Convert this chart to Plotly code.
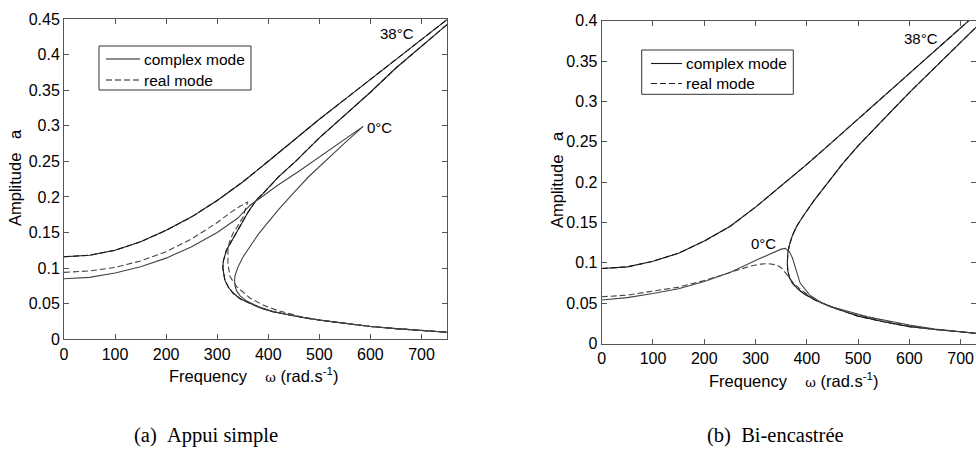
import plotly.graph_objects as go

# ---------------- data: (a) Appui simple ----------------
L38_UP_W = [0, 50, 100, 150, 200, 250, 300, 350, 400, 450, 500, 550, 600, 650, 700, 750]
L38_UP_A = [0.116, 0.118, 0.125, 0.137, 0.153, 0.172, 0.195, 0.221, 0.250, 0.280, 0.309, 0.337, 0.365, 0.392, 0.420, 0.449]
L38_BK_W = [750, 700, 650, 600, 550, 500, 455, 420, 390, 377, 360, 344, 330, 318, 312, 311, 315, 322, 331, 345, 364, 385, 409, 440, 475, 527, 600, 650, 700, 750]
L38_BK_A = [0.442, 0.412, 0.381, 0.347, 0.315, 0.283, 0.251, 0.228, 0.205, 0.196, 0.178, 0.158, 0.140, 0.125, 0.110, 0.100, 0.083, 0.073, 0.065, 0.057, 0.0506, 0.044, 0.0388, 0.034, 0.0295, 0.0245, 0.018, 0.015, 0.0125, 0.0100]

L0_CPX_W = [0, 50, 100, 150, 200, 250, 300, 340, 364, 387, 420, 460, 500, 550, 586,
            550, 514, 480, 450, 420, 397, 380, 364, 350, 341, 335, 334, 335, 338, 345, 357, 380, 410, 450, 500, 550, 600, 650, 700, 750]
L0_CPX_A = [0.085, 0.087, 0.093, 0.102, 0.114, 0.130, 0.150, 0.170, 0.188, 0.200, 0.217, 0.236, 0.256, 0.280, 0.299,
            0.276, 0.252, 0.229, 0.206, 0.182, 0.162, 0.147, 0.130, 0.115, 0.102, 0.090, 0.083, 0.075, 0.068, 0.061, 0.054, 0.046, 0.039, 0.033, 0.027, 0.0222, 0.018, 0.015, 0.0125, 0.010]

L0_REAL_W = [0, 50, 100, 150, 200, 250, 298, 330, 354, 360, 356, 351, 341, 331, 324, 321, 321, 325, 338, 364, 390, 416, 462, 500, 550, 600, 650, 700, 750]
L0_REAL_A = [0.094, 0.096, 0.101, 0.110, 0.123, 0.141, 0.163, 0.180, 0.191, 0.193, 0.185, 0.172, 0.160, 0.149, 0.137, 0.125, 0.107, 0.088, 0.074, 0.058, 0.048, 0.041, 0.032, 0.027, 0.0225, 0.018, 0.015, 0.0125, 0.010]

# ---------------- data: (b) Bi-encastree ----------------
R38_UP_W = [0, 50, 100, 150, 200, 250, 300, 350, 400, 450, 500, 550, 600, 650, 700, 730]
R38_UP_A = [0.093, 0.095, 0.102, 0.112, 0.127, 0.145, 0.169, 0.195, 0.222, 0.250, 0.278, 0.306, 0.335, 0.363, 0.391, 0.408]
R38_BK_W = [740, 700, 650, 600, 550, 500, 470, 439, 415, 393, 380, 372, 366, 363, 362, 363, 366, 372, 382, 393, 416, 450, 500, 550, 600, 650, 700, 730]
R38_BK_A = [0.398, 0.373, 0.342, 0.311, 0.278, 0.245, 0.223, 0.198, 0.178, 0.158, 0.145, 0.134, 0.122, 0.112, 0.100, 0.090, 0.082, 0.075, 0.068, 0.0624, 0.054, 0.045, 0.034, 0.027, 0.021, 0.0175, 0.0145, 0.0128]

R0_CPX_W = [0, 50, 100, 150, 200, 250, 300, 330, 350, 358, 366, 372, 377, 387, 406, 430, 452, 490, 520, 560, 600, 650, 700, 730]
R0_CPX_A = [0.054, 0.057, 0.062, 0.068, 0.077, 0.088, 0.103, 0.112, 0.117, 0.118, 0.114, 0.106, 0.095, 0.075, 0.060, 0.050, 0.045, 0.038, 0.033, 0.028, 0.023, 0.018, 0.0145, 0.0128]

R0_REAL_W = [0, 50, 100, 150, 200, 250, 290, 310, 325, 341, 350, 358, 366, 374, 390, 410, 430, 452, 490, 520, 560, 600, 650, 700, 730]
R0_REAL_A = [0.058, 0.060, 0.065, 0.070, 0.078, 0.088, 0.096, 0.0985, 0.099, 0.0975, 0.094, 0.088, 0.082, 0.075, 0.066, 0.057, 0.050, 0.044, 0.037, 0.033, 0.028, 0.022, 0.0175, 0.0145, 0.0128]

# ---------------- ticks / labels ----------------
X_TICKS = [0, 100, 200, 300, 400, 500, 600, 700]
Y_TICKS_L = [0, 0.05, 0.1, 0.15, 0.2, 0.25, 0.3, 0.35, 0.4, 0.45]
Y_LABELS_L = ["0", "0.05", "0.1", "0.15", "0.2", "0.25", "0.3", "0.35", "0.4", "0.45"]
Y_TICKS_R = [0, 0.05, 0.1, 0.15, 0.2, 0.25, 0.3, 0.35, 0.4]
Y_LABELS_R = ["0", "0.05", "0.1", "0.15", "0.2", "0.25", "0.3", "0.35", "0.4"]
LEGEND_NAMES = ["complex mode", "real mode"]

FONT = "Liberation Sans, Arial, sans-serif"
SERIF = "Liberation Serif, Times New Roman, serif"
C38 = "#1a1a1a"
C0 = "#444444"
DASH = "6px,3px"

fig = go.Figure()

def add(x, y, xa, ya, color, dash):
    fig.add_trace(go.Scatter(
        x=x, y=y, xaxis=xa, yaxis=ya, mode="lines",
        line=dict(color=color, width=1.1, dash=dash),
        showlegend=False, hoverinfo="skip"))

# left panel
add(L38_UP_W, L38_UP_A, "x", "y", C38, "solid")
add(L38_UP_W, L38_UP_A, "x", "y", C38, DASH)
add(L38_BK_W, L38_BK_A, "x", "y", C38, "solid")
add(L38_BK_W, L38_BK_A, "x", "y", C38, DASH)
add(L0_CPX_W, L0_CPX_A, "x", "y", C0, "solid")
add(L0_REAL_W, L0_REAL_A, "x", "y", C0, DASH)

# right panel
add(R38_UP_W, R38_UP_A, "x2", "y2", C38, "solid")
add(R38_UP_W, R38_UP_A, "x2", "y2", C38, DASH)
add(R38_BK_W, R38_BK_A, "x2", "y2", C38, "solid")
add(R38_BK_W, R38_BK_A, "x2", "y2", C38, DASH)
add(R0_CPX_W, R0_CPX_A, "x2", "y2", C0, "solid")
add(R0_REAL_W, R0_REAL_A, "x2", "y2", C0, DASH)

W, H = 976, 453

def px(xp):
    return xp / W

def py(yp):
    return 1 - yp / H

axis_common = dict(
    showgrid=False, zeroline=False, showline=True, linecolor="#555", linewidth=1,
    mirror="ticks", ticks="inside", ticklen=5, tickcolor="#555", automargin=False,
    tickfont=dict(family=FONT, size=16, color="#000"),
)

fig.update_layout(
    template="none",
    width=W, height=H, margin=dict(l=0, r=0, t=0, b=0, pad=0, autoexpand=False),
    paper_bgcolor="white", plot_bgcolor="white", showlegend=False,
    xaxis=dict(domain=[px(64), px(447)], range=[0, 750], tickvals=X_TICKS, anchor="y", **axis_common),
    yaxis=dict(domain=[py(339.3), py(18.9)], range=[0, 0.45], tickvals=Y_TICKS_L, ticktext=Y_LABELS_L, anchor="x", **axis_common),
    xaxis2=dict(domain=[px(601.7), 1.0], range=[0, 730], tickvals=X_TICKS, anchor="y2", **axis_common),
    yaxis2=dict(domain=[py(343.6), py(20.7)], range=[0, 0.4], tickvals=Y_TICKS_R, ticktext=Y_LABELS_R, anchor="x2", **axis_common),
)

ann = []
shapes = []

def text(x, y, t, size=15, family=FONT, angle=0, xref="paper", yref="paper", xanchor="center"):
    ann.append(dict(x=x, y=y, xref=xref, yref=yref, text=t, showarrow=False,
                    font=dict(family=family, size=size, color="#000"), textangle=angle,
                    xanchor=xanchor, yanchor="middle"))

# legends drawn as boxes (one per panel)
def legend_box(x0, y0, x1, y1, lx0, lx1, tx, rows):
    shapes.append(dict(type="rect", xref="paper", yref="paper",
                       x0=px(x0), x1=px(x1), y0=py(y1), y1=py(y0),
                       line=dict(color="#333", width=1), fillcolor="white", layer="above"))
    for (ry, name, dash) in rows:
        shapes.append(dict(type="line", xref="paper", yref="paper",
                           x0=px(lx0), x1=px(lx1), y0=py(ry), y1=py(ry),
                           line=dict(color=C38, width=1.1, dash=dash), layer="above"))
        text(px(tx), py(ry), name, 15.5, xanchor="left")

legend_box(99, 46, 251, 90, 106, 140, 142, [(59, LEGEND_NAMES[0], "solid"), (80, LEGEND_NAMES[1], DASH)])
legend_box(641.7, 50, 793.3, 94.3, 651, 682, 683.5, [(63.5, LEGEND_NAMES[0], "solid"), (83.5, LEGEND_NAMES[1], DASH)])

xtitle = ("Frequency&nbsp;&nbsp;&nbsp;&nbsp;<span style='font-family:DejaVu Serif;font-size:13px'>ω</span>"
          " (rad.s<sup>-1</sup>)")
text(px(254), py(375), xtitle, 16.5)
text(px(793), py(380), xtitle, 16.5)
ytitle = "Amplitude&nbsp;&nbsp;&nbsp;a"
text(px(15), py(178), ytitle, 16.5, angle=-90)
text(px(557), py(180), ytitle, 16.5, angle=-90)

# temperature labels (data coords)
text(652, 0.429, "38°C", 15, xref="x", yref="y")
text(618, 0.298, "0°C", 15, xref="x", yref="y")
text(623, 0.378, "38°C", 15, xref="x2", yref="y2")
text(315, 0.1236, "0°C", 15, xref="x2", yref="y2")

# captions
text(px(206), py(435), "(a)&nbsp;&nbsp;Appui simple", 20.5, SERIF)
text(px(775), py(435), "(b)&nbsp;&nbsp;Bi-encastrée", 20.5, SERIF)

fig.update_layout(annotations=ann, shapes=shapes)
fig.write_html("out.html", config={"displayModeBar": False, "staticPlot": True},
               post_script="document.body.style.margin='0px';document.body.style.overflow='hidden';")
